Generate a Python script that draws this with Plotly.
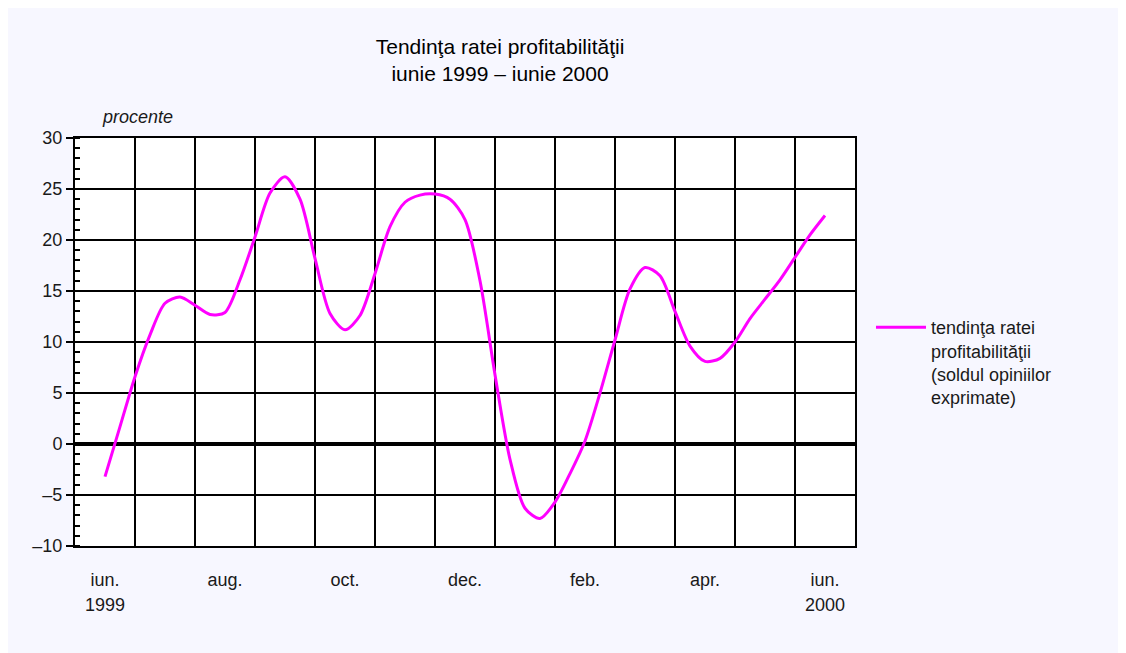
import plotly.graph_objects as go

# Data: values sampled every quarter month, from June 1999 (0) to June 2000 (12)
profit_rate = [
    -3.2, 1.7, 6.6, 10.7, 13.8, 14.4, 13.6, 12.7, 12.9, 16.1,
    20.3, 24.6, 26.2, 24.0, 18.2, 12.8, 11.2, 12.6, 16.7, 21.3,
    23.7, 24.4, 24.5, 24.0, 22.0, 16.0, 6.8, -1.5, -6.3, -7.3,
    -5.7, -2.9, 0.3, 5.0, 10.2, 15.2, 17.3, 16.5, 13.0, 9.6,
    8.1, 8.4, 10.0, 12.3, 14.2, 16.1, 18.3, 20.5, 22.4,
]
month_pos = [i / 4 for i in range(len(profit_rate))]

month_tick_pos = [0, 2, 4, 6, 8, 10, 12]
month_tick_text = ["iun.", "aug.", "oct.", "dec.", "feb.", "apr.", "iun."]
year_labels = [(0, "1999"), (12, "2000")]

y_tick_vals = [-10, -5, 0, 5, 10, 15, 20, 25, 30]
y_tick_text = ["–10", "–5", "0", "5", "10", "15", "20", "25", "30"]

series_name = "tendinţa ratei<br>profitabilităţii<br>(soldul opiniilor<br>exprimate)"

FONT = "Liberation Sans, Arial, sans-serif"
TXT = "#1a1a1a"

fig = go.Figure()
fig.add_trace(go.Scatter(
    x=month_pos, y=profit_rate, mode="lines", name=series_name,
    line=dict(color="#FF00FF", width=3, shape="spline", smoothing=0.8),
))

fig.update_layout(
    width=1126, height=653,
    paper_bgcolor="#F7F7FF", plot_bgcolor="#FFFFFF",
    margin=dict(l=67, r=279, t=130, b=115),
    font=dict(family=FONT, size=18, color=TXT),
    title=dict(
        text="Tendinţa ratei profitabilităţii<br>iunie 1999 – iunie 2000",
        x=0.437, xanchor="center", y=0.930, yanchor="top",
        font=dict(size=21, color="#000000"),
    ),
    showlegend=True,
    legend=dict(
        x=1.0205, xanchor="left", y=0.581, yanchor="top",
        bgcolor="rgba(0,0,0,0)", valign="top", itemwidth=50,
        font=dict(size=18, color=TXT), tracegroupgap=0,
    ),
    xaxis=dict(
        range=[-0.5, 12.5], tickvals=month_tick_pos, ticktext=month_tick_text,
        showgrid=False, zeroline=False, ticks="", ticklabelstandoff=16,
        showline=True, linecolor="#000000", linewidth=2, mirror=True,
        tickfont=dict(size=18, color=TXT),
        minor=dict(tick0=-0.5, dtick=1, showgrid=True, gridcolor="#000000",
                   gridwidth=2, ticks=""),
    ),
    yaxis=dict(
        range=[-10, 30], tickvals=y_tick_vals, ticktext=y_tick_text,
        showgrid=True, gridcolor="#000000", gridwidth=2,
        zeroline=True, zerolinecolor="#000000", zerolinewidth=3.5,
        showline=True, linecolor="#000000", linewidth=2, mirror=True,
        ticks="outside", ticklen=7, tickwidth=2, tickcolor="#000000",
        tickfont=dict(size=18, color=TXT),
        minor=dict(dtick=1, ticks="inside", ticklen=5, tickwidth=2,
                   tickcolor="#000000", showgrid=False),
    ),
)

for xpos, txt in year_labels:
    fig.add_annotation(x=xpos, y=0, xref="x", yref="paper", yanchor="middle",
                       yshift=-59, text=txt, showarrow=False,
                       font=dict(size=18, color=TXT))

fig.add_annotation(x=0.032, xref="paper", y=1.0, yref="paper", yanchor="middle",
                   yshift=21, xanchor="left", text="<i>procente</i>",
                   showarrow=False, font=dict(size=18, color=TXT))

fig.write_html("out.html")
